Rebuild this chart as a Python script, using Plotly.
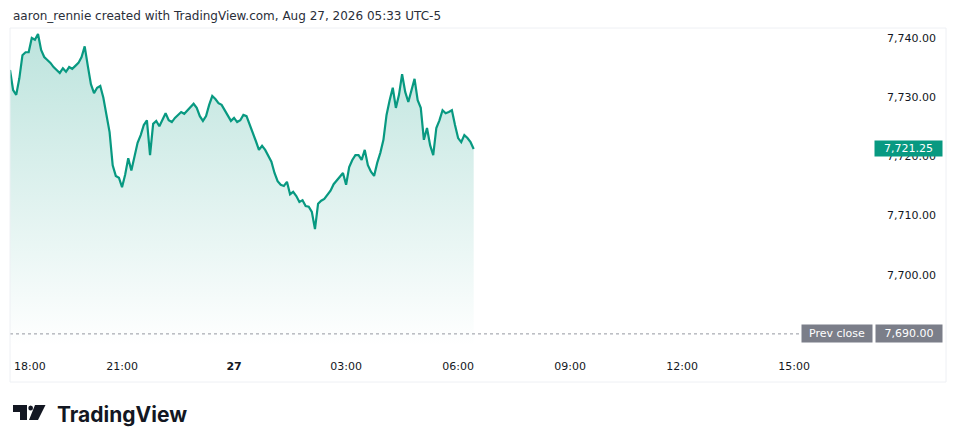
import pandas as pd
import plotly.graph_objects as go

# ES-style intraday price, 5 minute closes from 18:00
start_time = "2026-08-26 18:00"
step = "5min"
prices = [
    7734.6, 7731.2, 7730.4, 7733.2, 7737.1, 7737.6, 7737.6, 7740.0, 7739.7, 7740.7, 7738.0, 7736.8,  # 18h
    7736.3, 7735.8, 7735.1, 7734.6, 7734.1, 7734.9, 7734.3, 7735.1, 7734.8, 7735.3, 7735.8, 7736.8,  # 19h
    7738.6, 7735.3, 7732.2, 7730.7, 7731.6, 7731.9, 7729.9, 7727.0, 7724.1, 7718.5, 7716.7, 7716.4,  # 20h
    7714.8, 7716.9, 7719.7, 7717.6, 7719.7, 7722.3, 7723.6, 7725.3, 7726.1, 7720.2, 7725.5, 7726.0,  # 21h
    7725.1, 7726.1, 7727.3, 7726.1, 7725.8, 7726.5, 7727.0, 7727.5, 7727.2, 7727.8, 7728.3, 7728.9,  # 22h
    7728.2, 7726.8, 7726.0, 7726.8, 7728.7, 7730.2, 7729.7, 7729.0, 7728.7, 7727.8, 7726.8, 7726.0,  # 23h
    7726.5, 7725.8, 7726.1, 7727.0, 7726.8, 7725.5, 7724.0, 7722.6, 7721.1, 7721.8, 7721.1, 7720.1,  # 00h
    7719.1, 7717.2, 7715.8, 7715.2, 7715.0, 7715.7, 7713.6, 7714.0, 7713.3, 7712.3, 7712.6, 7711.6,  # 01h
    7711.5, 7710.6, 7707.7, 7712.0, 7712.5, 7712.8, 7713.5, 7714.2, 7715.3, 7716.0, 7716.5, 7717.2,  # 02h
    7715.2, 7718.2, 7719.4, 7720.2, 7720.2, 7719.4, 7721.1, 7718.5, 7717.4, 7716.7, 7718.9, 7720.6,  # 03h
    7722.8, 7727.0, 7729.5, 7731.6, 7728.2, 7730.4, 7733.9, 7730.9, 7729.2, 7731.2, 7733.1, 7729.5,  # 04h
    7728.2, 7722.8, 7724.8, 7721.9, 7720.2, 7724.8, 7726.1, 7727.8, 7727.3, 7727.5, 7727.8, 7725.3,  # 05h
    7723.1, 7722.4, 7723.6, 7723.1, 7722.4, 7721.25,                                                 # 06h
]
times = pd.date_range(start_time, periods=len(prices), freq=step)

prev_close = 7690.00
last_price = prices[-1]

price_ticks = [7700, 7710, 7720, 7730, 7740]
time_ticks = ["2026-08-26 21:00", "2026-08-27 00:00", "2026-08-27 03:00", "2026-08-27 06:00",
              "2026-08-27 09:00", "2026-08-27 12:00", "2026-08-27 15:00"]
time_labels = ["21:00", "<b>27</b>", "03:00", "06:00", "09:00", "12:00", "15:00"]
first_tick = "2026-08-26 18:00"
first_label = "18:00"

title_text = "aaron_rennie created with TradingView.com, Aug 27, 2026 05:33 UTC-5"

GREEN = "#089981"
FONT = "DejaVu Sans"

W, H = 960, 447
L, R, T, B = 10, 88, 28, 93
pw, ph = W - L - R, H - T - B


def px(x):
    return (x - L) / pw


def py(y):
    return (H - B - y) / ph


fig = go.Figure()
fig.add_trace(go.Scatter(
    x=times, y=prices, mode="lines",
    line=dict(color=GREEN, width=2.2),
    fill="tozeroy",
    fillgradient=dict(type="vertical", start=7688, stop=7741,
                      colorscale=[[0, "rgba(8,153,129,0)"], [1, "rgba(8,153,129,0.27)"]]),
    hoverinfo="skip", showlegend=False,
))

shapes = [
    # prev close dotted line
    dict(type="line", xref="paper", yref="y", x0=0, x1=px(800), y0=prev_close, y1=prev_close,
         line=dict(color="#9598a1", width=1, dash="dot")),
    # faint chart frame
    dict(type="rect", xref="paper", yref="paper", x0=px(10), x1=px(946), y0=py(382), y1=py(28),
         line=dict(color="#eef0f4", width=1)),
    # tradingview logo mark
    dict(type="path", xref="paper", yref="paper", fillcolor="#131722", line=dict(width=0),
         path="M %f %f L %f %f L %f %f L %f %f L %f %f L %f %f Z" % (
             px(13), py(405), px(27), py(405), px(27), py(420), px(20), py(420),
             px(20), py(412), px(13), py(412))),
    dict(type="circle", xref="paper", yref="paper", fillcolor="#131722", line=dict(width=0),
         x0=px(28.3), x1=px(33), y0=py(410.5), y1=py(405.5)),
    dict(type="path", xref="paper", yref="paper", fillcolor="#131722", line=dict(width=0),
         path="M %f %f L %f %f L %f %f L %f %f Z" % (
             px(35), py(405), px(45.5), py(405), px(38), py(420), px(29), py(420))),
]

annotations = [
    dict(text=title_text, xref="paper", yref="paper", x=px(11), y=py(16), xanchor="left",
         yanchor="middle", showarrow=False, font=dict(family=FONT, size=12, color="#2a2e39")),
    dict(text=first_label, xref="x", yref="paper", x=first_tick, y=py(366), xanchor="left",
         yanchor="middle", xshift=2, showarrow=False, font=dict(family=FONT, size=11, color="#131722")),
    dict(text=format(last_price, ",.2f"), xref="paper", yref="y", x=px(908.5), y=last_price,
         xanchor="center", yanchor="middle", showarrow=False, bgcolor=GREEN, width=65, height=13,
         borderpad=1, font=dict(family=FONT, size=11, color="white")),
    dict(text="Prev close", xref="paper", yref="y", x=px(837), y=prev_close,
         xanchor="center", yanchor="middle", showarrow=False, bgcolor="#7b7e89", width=68, height=15,
         borderpad=1, font=dict(family=FONT, size=11, color="white")),
    dict(text=format(prev_close, ",.2f"), xref="paper", yref="y", x=px(909), y=prev_close,
         xanchor="center", yanchor="middle", showarrow=False, bgcolor="#7b7e89", width=64, height=15,
         borderpad=1, font=dict(family=FONT, size=11, color="white")),
    dict(text="<b>TradingView</b>", xref="paper", yref="paper", x=px(55), y=py(414), xanchor="left",
         yanchor="middle", showarrow=False, font=dict(family="Inter", size=21, color="#131722")),
]

fig.update_layout(
    width=W, height=H,
    margin=dict(l=L, r=R, t=T, b=B),
    paper_bgcolor="white", plot_bgcolor="white",
    shapes=shapes, annotations=annotations,
    xaxis=dict(type="date", range=["2026-08-26 18:00", "2026-08-27 17:05"],
               tickvals=time_ticks, ticktext=time_labels, showgrid=False, zeroline=False,
               showline=False, ticks="", ticklabelstandoff=4,
               tickfont=dict(family=FONT, size=11, color="#131722")),
    yaxis=dict(side="right", range=[7686.6, 7741.7], tickvals=price_ticks, tickformat=",.2f",
               showgrid=False, zeroline=False, showline=False, ticks="", ticklabelstandoff=14,
               tickfont=dict(family=FONT, size=11, color="#131722")),
)

# drop the browser's default body margin so the figure sits at the page corner
fig.write_html("out.html", config={"displayModeBar": False},
               post_script="document.body.style.margin='0';")
